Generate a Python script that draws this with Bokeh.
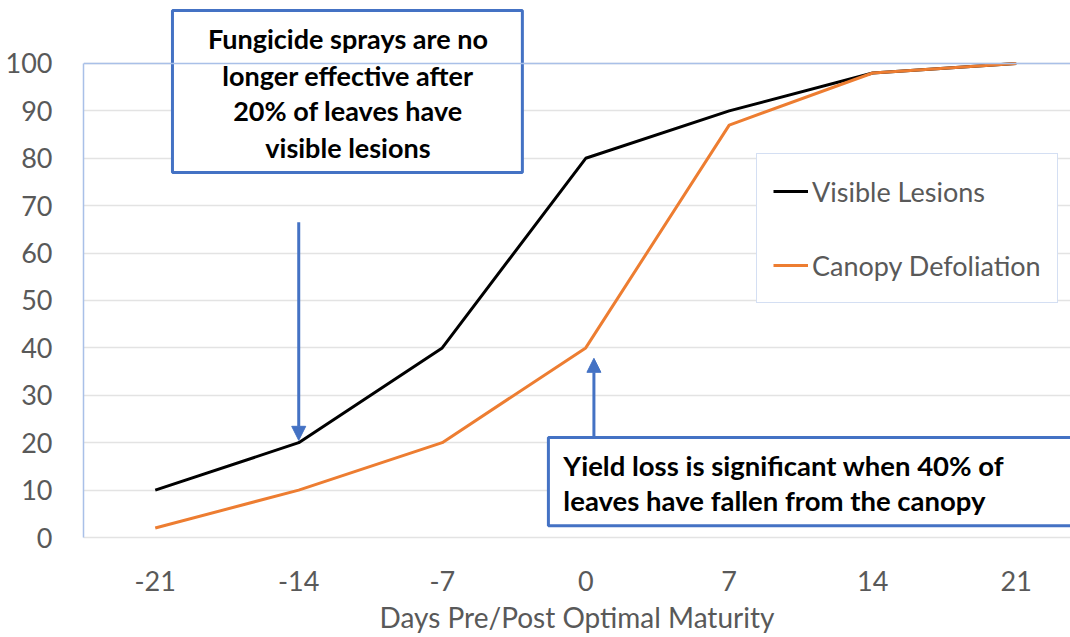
from bokeh.plotting import figure
from bokeh.models import FixedTicker, Span, Arrow, NormalHead, Legend, LegendItem, Range1d
from bokeh.core.properties import value
from bokeh.embed import file_html
from bokeh.resources import INLINE

days = [-21, -14, -7, 0, 7, 14, 21]
visible_lesions = [10, 20, 40, 80, 90, 98, 100]
canopy_defoliation = [2, 10, 20, 40, 87, 98, 100]
y_ticks = [0, 10, 20, 30, 40, 50, 60, 70, 80, 90, 100]
x_label = "Days Pre/Post Optimal Maturity"
series_names = ["Visible Lesions", "Canopy Defoliation"]
note1 = ["Fungicide sprays are no", "longer effective after", "20% of leaves have", "visible lesions"]
note2 = ["Yield loss is significant when 40% of", "leaves have fallen from the canopy"]

FONT = "Lato"
GRAY = "#595959"
BLUE = "#4472C4"
LIGHTBLUE = "#a9c0e8"

p = figure(width=1070, height=637, output_backend="svg", toolbar_location=None,
           x_range=Range1d(-24.5, 23.65), y_range=Range1d(0, 111.6),
           min_border_left=83, min_border_right=0, min_border_top=8, min_border_bottom=100)
p.outline_line_color = None
p.background_fill_color = "white"

p.xgrid.visible = False
p.ygrid.grid_line_color = "#e3e3e3"
p.ygrid.grid_line_width = 1.5
p.ygrid.ticker = FixedTicker(ticks=y_ticks)

p.yaxis.ticker = FixedTicker(ticks=y_ticks)
p.yaxis.bounds = (0, 100)
p.yaxis.axis_line_color = LIGHTBLUE
p.yaxis.axis_line_width = 1.5
p.yaxis.major_tick_line_color = None
p.yaxis.minor_tick_line_color = None
p.yaxis.major_label_standoff = 25
p.yaxis.major_label_text_font = FONT
p.yaxis.major_label_text_font_size = "27px"
p.yaxis.major_label_text_color = GRAY

p.xaxis.ticker = FixedTicker(ticks=days)
p.xaxis.major_label_overrides = {d: str(d) for d in days}
p.xaxis.axis_line_color = "#e3e3e3"
p.xaxis.axis_line_width = 1.5
p.xaxis.major_tick_line_color = None
p.xaxis.minor_tick_line_color = None
p.xaxis.major_label_standoff = 27
p.xaxis.major_label_text_font = FONT
p.xaxis.major_label_text_font_size = "27px"
p.xaxis.major_label_text_color = GRAY
p.xaxis.axis_label = x_label
p.xaxis.axis_label_text_font = FONT
p.xaxis.axis_label_text_font_size = "28px"
p.xaxis.axis_label_text_font_style = "normal"
p.xaxis.axis_label_text_color = GRAY
p.xaxis.axis_label_standoff = 6

p.add_layout(Span(location=100, dimension="width", line_color=LIGHTBLUE, line_width=1.5))

r1 = p.line(days, visible_lesions, line_color="black", line_width=3)
r2 = p.line(days, canopy_defoliation, line_color="#ED7D31", line_width=3)

legend = Legend(items=[LegendItem(label=series_names[0], renderers=[r1]),
                       LegendItem(label=series_names[1], renderers=[r2])],
                location=(673, 234))
legend.label_text_font = FONT
legend.label_text_font_size = "27px"
legend.label_text_color = GRAY
legend.glyph_width = 35
legend.glyph_height = 42
legend.label_height = 42
legend.label_standoff = 4
legend.padding = 16
legend.spacing = 32
legend.margin = 0
legend.border_line_color = LIGHTBLUE
legend.border_line_width = 1.5
legend.background_fill_color = "white"
legend.background_fill_alpha = 1
p.add_layout(legend)

# arrows
p.add_layout(Arrow(end=NormalHead(size=14, fill_color=BLUE, line_color=BLUE),
                   x_start=-14, y_start=66.5, x_end=-14, y_end=20.5,
                   line_color=BLUE, line_width=3))
p.add_layout(Arrow(end=NormalHead(size=14, fill_color=BLUE, line_color=BLUE),
                   x_start=0.4, y_start=21.1, x_end=0.4, y_end=37.8,
                   line_color=BLUE, line_width=3))

# annotation boxes
p.quad(left=[-20.16], right=[-3.09], top=[111.2], bottom=[77.0],
       fill_color="white", line_color=BLUE, line_width=3)
p.quad(left=[-1.82], right=[25], top=[21.1], bottom=[2.5],
       fill_color="white", line_color=BLUE, line_width=3)

p.text(x=[-11.6] * 4, y=[105.3, 97.5, 90.1, 82.3], text=note1,
       text_font=value(FONT), text_font_size="27px", text_font_style="bold",
       text_color="black", text_align="center", text_baseline="middle")
p.text(x=[-1.09] * 2, y=[15.2, 7.8], text=note2,
       text_font=value(FONT), text_font_size="27.5px", text_font_style="bold",
       text_color="black", text_align="left", text_baseline="middle")

open("out.html", "w").write(file_html(p, INLINE))
